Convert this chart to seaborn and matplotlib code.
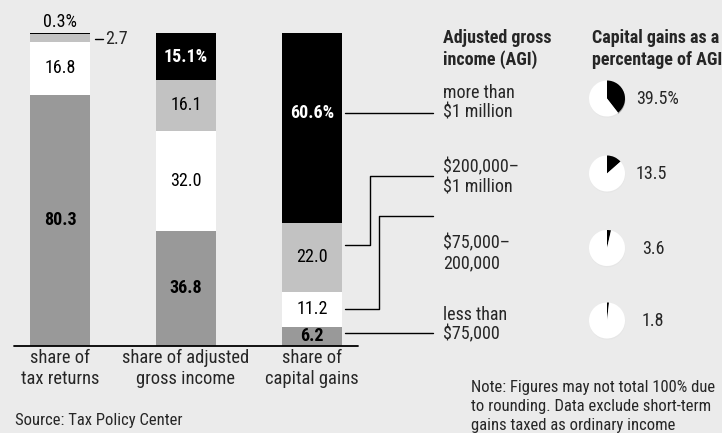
import numpy as np
import pandas as pd
import matplotlib
matplotlib.use("Agg")
import matplotlib.pyplot as plt
import seaborn as sns

# ---------------- data ----------------
categories = ["share of\ntax returns", "share of adjusted\ngross income", "share of\ncapital gains"]
less_75k = [80.3, 36.8, 6.2]
k75_200k = [16.8, 32.0, 11.2]
k200_1m = [2.7, 16.1, 22.0]
over_1m = [0.3, 15.1, 60.6]

value_labels = [
    ["80.3", "16.8", "", "0.3%"],
    ["36.8", "32.0", "16.1", "15.1%"],
    ["6.2", "11.2", "22.0", "60.6%"],
]

agi_groups = ["more than\n$1 million", "$200,000–\n$1 million", "$75,000–\n200,000", "less than\n$75,000"]
capgain_pct = [39.5, 13.5, 3.6, 1.8]
capgain_labels = ["39.5%", "13.5", "3.6", "1.8"]

# ---------------- style ----------------
sns.set_theme(style="white")
plt.rcParams["font.family"] = ["Roboto Condensed", "DejaVu Sans"]

BG = "#ebebeb"
DARK = "#999999"
LIGHT = "#c2c2c2"
W, H = 722, 433
FS = 13

fig = plt.figure(figsize=(W / 100, H / 100), dpi=100, facecolor=BG)

# overlay axes in pixel coordinates for annotations
ov = fig.add_axes([0, 0, 1, 1], facecolor="none", zorder=5)
ov.set_xlim(0, W)
ov.set_ylim(H, 0)
ov.axis("off")

# bar axes
x0, x1 = 14, 358
y_base, y_top = 346, 33
ax = fig.add_axes([x0 / W, (H - y_base) / H, (x1 - x0) / W, (y_base - y_top) / H], facecolor="none", zorder=2)

layers = [less_75k, k75_200k, k200_1m, over_1m]
colors = [DARK, "white", LIGHT, "black"]
cum = np.cumsum(np.array(layers), axis=0)
for i in range(3, -1, -1):
    df = pd.DataFrame({"cat": categories, "val": cum[i]})
    sns.barplot(data=df, x="cat", y="val", order=categories, color=colors[i],
                width=0.476, linewidth=0, saturation=1, ax=ax)

ax.set_xlim(-0.365, 2.365)
ax.set_ylim(0, 100)
ax.axis("off")
ax.axhline(0, color="black", lw=1.3, zorder=3, clip_on=False)

# value labels in bars
for j in range(3):
    for i in range(4):
        lab = value_labels[j][i]
        if not lab:
            continue
        v = layers[i][j]
        ymid = cum[i][j] - v / 2
        bold = (i == 0) or (i == 3 and j > 0)
        col = "white" if (i == 3 and j > 0) else "black"
        if j == 0 and i == 3:
            ymid = 103.6
        if j == 2 and i == 3:
            ymid = 74.5
        ax.text(j, ymid, lab, ha="center", va="center", fontsize=FS,
                fontweight="bold" if bold else "normal", color=col, zorder=4, clip_on=False)

# 2.7 label with dash
ov.plot([95, 103], [38.5, 38.5], color="black", lw=1)
ov.text(105, 38.5, "2.7", ha="left", va="center", fontsize=FS)

# category labels
for j, c in enumerate(categories):
    ov.text(60 + 126 * j, 368.5, c, ha="center", va="center", fontsize=FS + 0.3, linespacing=1.25)

# leader lines
lk = dict(color="black", lw=1)
ov.plot([345, 433], [112.7, 112.7], **lk)
ov.plot([345, 370, 370, 433], [245, 245, 176, 176], **lk)
ov.plot([345, 379, 379, 433], [309, 309, 216, 216], **lk)
ov.plot([345, 433], [333, 333], **lk)

# headers
ov.text(443, 49, "Adjusted gross\nincome (AGI)", ha="left", va="center", fontsize=FS,
        fontweight="bold", linespacing=1.25)
ov.text(592, 49, "Capital gains as a\npercentage of AGI", ha="left", va="center", fontsize=FS,
        fontweight="bold", linespacing=1.25)

# AGI group labels
group_y = [102.5, 177.5, 253, 324.5]
for g, yy in zip(agi_groups, group_y):
    ov.text(443, yy, g, ha="left", va="center", fontsize=FS, linespacing=1.12)

# pies
pie_y = [98.5, 173.5, 248, 320.5]
label_x = [636, 636, 642, 642]
r = 18
pad = 6
for pct, lab, cy, lx in zip(capgain_pct, capgain_labels, pie_y, label_x):
    pa = fig.add_axes([(607 - r - pad) / W, (H - cy - r - pad) / H, (2 * (r + pad)) / W, (2 * (r + pad)) / H], zorder=3)
    pa.pie([pct, 100 - pct], colors=["black", "white"], startangle=90, counterclock=False,
           radius=1, wedgeprops=dict(linewidth=0),
           shadow=dict(ox=0.01, oy=-0.05, shade=0.15, alpha=0.25))
    lim = (r + pad) / r
    pa.set_xlim(-lim, lim)
    pa.set_ylim(-lim, lim)
    pa.set_aspect("equal")
    pa.axis("off")
    ov.text(lx, cy + 0.5, lab, ha="left", va="center", fontsize=FS)

# note and source
ov.text(471, 406.5, "Note: Figures may not total 100% due\nto rounding. Data exclude short-term\ngains taxed as ordinary income",
        ha="left", va="center", fontsize=12, linespacing=1.3)
ov.text(15, 421, "Source: Tax Policy Center", ha="left", va="center", fontsize=12)

fig.savefig("out.png", dpi=100, facecolor=BG)
